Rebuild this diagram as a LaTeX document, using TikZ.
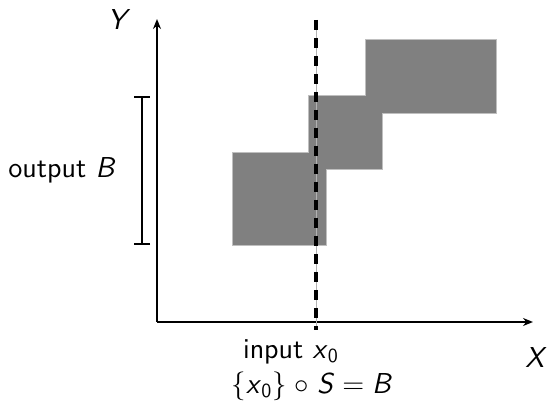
\documentclass[tikz,border=0pt]{standalone}
\usetikzlibrary{arrows.meta}

\newcommand{\mv}[1]{\textsf{\itshape #1}}
\newcommand{\xnull}{\mv{x}$_{\mathsf{0}}$}

\tikzset{
  blockedge/.style={draw=gray!50, line width=0.8pt},
  block/.style={fill=gray},
  axis/.style={line width=1pt, -{Stealth[length=5pt,width=4pt]}},
  cut/.style={line width=2.2pt, dash pattern=on 5pt off 4pt},
  lab/.style={inner sep=0.5pt},
}

\begin{document}
\begin{tikzpicture}[x=0.5pt, y=-0.5pt, font=\sffamily\Large]
    \useasboundingbox (0,0) rectangle (547,411);

    % Axes
    \coordinate (O) at (157,322);
    \coordinate (xend) at (533,322);
    \coordinate (yend) at (157,19);

    % Gray blocks of S
    \draw[blockedge] (233,153) rectangle (326,245);
    \draw[blockedge] (309,96) rectangle (382,169);
    \draw[blockedge] (366,40) rectangle (496,113);
    \fill[block] (233,153) rectangle (326,245);
    \fill[block] (309,96) rectangle (382,169);
    \fill[block] (366,40) rectangle (496,113);

    \draw[axis] (O) -- (xend);
    \draw[axis] (O) -- (yend);

    % Vertical cut at x_0
    \coordinate (ctop) at (316,20);
    \coordinate (cbot) at (316,330);
    \draw[gray!60, line width=0.4pt] (ctop) -- (cbot);
    \draw[cut] (ctop) -- (cbot);

    % Output interval
    \coordinate (btop) at (142,96);
    \coordinate (bbot) at (142,245);
    \draw[line width=0.8pt, {Bar[width=8pt]}-{Bar[width=8pt]}] (btop) -- (bbot);

    % Labels
    \node[lab] (ylab) at (119,20) {\mv{Y}};
    \node[lab] (outlab) at (62,170) {output \mv{B}};
    \node[lab] (inlab) at (291,352) {input \xnull};
    \node[lab] (xlab) at (536,358) {\mv{X}};
    \node[lab] (eqlab) at (312,386) {$\{$\xnull$\}\;\circ\;$\mv{S}$\;=\;$\mv{B}};
\end{tikzpicture}
\end{document}
